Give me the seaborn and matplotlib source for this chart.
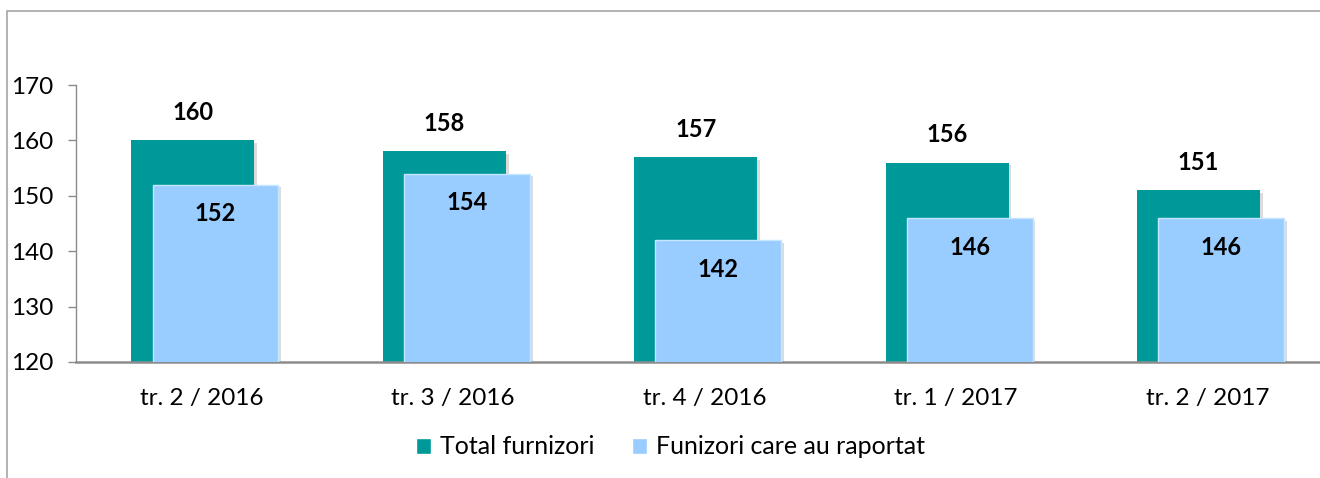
import matplotlib
matplotlib.use("Agg")
import matplotlib.pyplot as plt
import matplotlib.patheffects as pe
from matplotlib.patches import Patch, Rectangle
import seaborn as sns

# data
quarters = ["tr. 2 / 2016", "tr. 3 / 2016", "tr. 4 / 2016", "tr. 1 / 2017", "tr. 2 / 2017"]
total_furnizori = [160, 158, 157, 156, 151]
raportat = [152, 154, 142, 146, 146]

TEAL = "#009999"
LIGHT = "#99CCFF"

sns.set_style("white")
plt.rcParams["font.family"] = ["Lato", "DejaVu Sans"]
plt.rcParams["text.color"] = "black"

W, H = 1320, 478
fig = plt.figure(figsize=(W / 100, H / 100), dpi=100)
ax = fig.add_axes([76 / W, (H - 362) / H, 1257 / W, 277 / H])

shadow = [pe.SimplePatchShadow(offset=(2, -2), shadow_rgbFace="#999999", alpha=0.35), pe.Normal()]

sns.barplot(x=quarters, y=total_furnizori, color=TEAL, width=0.49, saturation=1,
            ax=ax, linewidth=0, zorder=2)
n_teal = len(ax.patches)
sns.barplot(x=quarters, y=raportat, color=LIGHT, width=0.5, saturation=1,
            ax=ax, edgecolor="#c6e6ff", linewidth=1, zorder=3)

for i, p in enumerate(ax.patches):
    shift = -0.035 if i < n_teal else 0.055
    p.set_x(p.get_x() + shift)
    p.set_path_effects(shadow)

for i, p in enumerate(ax.patches):
    cx = p.get_x() + p.get_width() / 2
    top = p.get_height()
    if i < n_teal:
        ax.annotate(f"{top:.0f}", (cx, top), xytext=(0, 20), textcoords="offset points",
                    ha="center", va="center", fontsize=17, fontweight="bold", annotation_clip=False)
    else:
        ax.annotate(f"{top:.0f}", (cx, top), xytext=(0, -21), textcoords="offset points",
                    ha="center", va="center", fontsize=17, fontweight="bold", zorder=5)

ax.set_ylim(120, 170)
ax.set_xlim(-0.5, 4.5)
ax.set_yticks(range(120, 171, 10))
ax.tick_params(axis="y", which="major", left=True, length=6, width=1, color="#8c8c8c",
               labelsize=17.5, labelcolor="black", pad=10)
ax.tick_params(axis="x", length=0, labelsize=17.5, labelcolor="black", pad=19)
ax.set_xlabel("")
ax.set_ylabel("")
for side in ("top", "right"):
    ax.spines[side].set_visible(False)
ax.spines["left"].set_color("#8c8c8c")
ax.spines["left"].set_linewidth(1)
ax.spines["bottom"].set_color("#8c8c8c")
ax.spines["bottom"].set_linewidth(1.8)

handles = [Patch(facecolor=TEAL, label="Total furnizori"),
           Patch(facecolor=LIGHT, label="Funizori care au raportat")]
fig.legend(handles=handles, loc="center", bbox_to_anchor=(0.508, 1 - 447 / H), ncol=2,
           frameon=False, fontsize=18, handlelength=0.6, handleheight=0.6,
           handletextpad=0.35, columnspacing=1.5)

fig.patches.append(Rectangle((7 / W, -0.1), 1.2, 1 - 11 / H + 0.1, transform=fig.transFigure,
                             fill=False, edgecolor="#a6a6a6", linewidth=1.2))

fig.savefig("out.png", dpi=100)
